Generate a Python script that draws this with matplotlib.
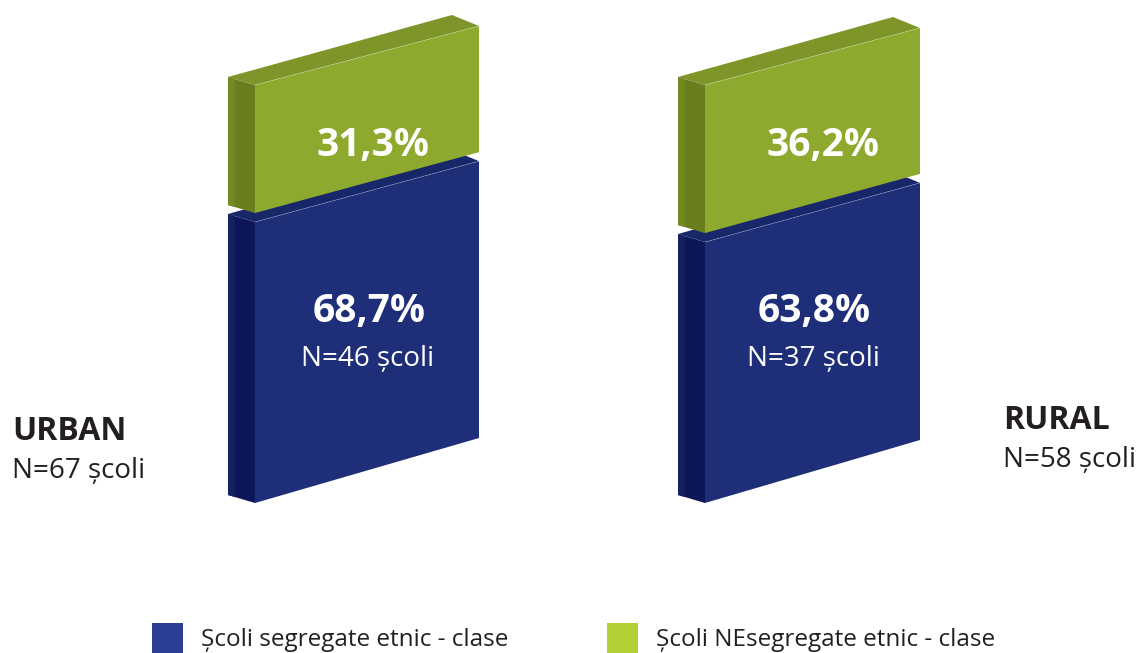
import matplotlib.pyplot as plt
from matplotlib.patches import Polygon, Rectangle

plt.rcParams['font.family'] = ['Open Sans', 'DejaVu Sans']

# data
areas = ["URBAN", "RURAL"]
area_n = [67, 58]
segregated_pct = [68.7, 63.8]
segregated_n = [46, 37]
nonsegregated_pct = [31.3, 36.2]
legend_labels = ["Școli segregate etnic - clase", "Școli NEsegregate etnic - clase"]

# colours
blue_front, blue_side, blue_side_out, blue_top = "#1F2E78", "#0D1758", "#15215F", "#18266A"
green_front, green_side, green_side_out, green_top = "#8DAA2F", "#697E1F", "#738A23", "#7E952A"
blue_legend, green_legend = "#2A3E94", "#B1D034"
dark_text = "#231F20"

# layout (pixels)
bar_left = [255, 705]
bar_width = [224, 215]
base_left = 503
base_right = [438, 440]
scale_left = 4.09    # px per % on the left edge of the front face
scale_right = 4.03   # px per % on the right edge
gap = 9
depth_x, depth_y = -27, -8

fig = plt.figure(figsize=(11.4, 6.53), dpi=100)
ax = fig.add_axes([0, 0, 1, 1])
ax.set_xlim(0, 1140)
ax.set_ylim(653, 0)
ax.axis('off')


def block(x0, w, yl_bot, yr_bot, yl_top, yr_top, front, side, side_out, top):
    # side face (two tones)
    ax.add_patch(Polygon([(x0, yl_top), (x0, yl_bot), (x0 + depth_x, yl_bot + depth_y),
                          (x0 + depth_x, yl_top + depth_y)], closed=True, fc=side, ec='none'))
    ax.add_patch(Polygon([(x0 + depth_x * 0.75, yl_top + depth_y * 0.75), (x0 + depth_x * 0.75, yl_bot + depth_y * 0.75),
                          (x0 + depth_x, yl_bot + depth_y), (x0 + depth_x, yl_top + depth_y)],
                         closed=True, fc=side_out, ec='none'))
    # top face
    ax.add_patch(Polygon([(x0, yl_top), (x0 + w, yr_top), (x0 + w + depth_x, yr_top + depth_y - 3),
                          (x0 + depth_x, yl_top + depth_y)], closed=True, fc=top, ec='none'))
    # front face
    ax.add_patch(Polygon([(x0, yl_bot), (x0 + w, yr_bot), (x0 + w, yr_top), (x0, yl_top)],
                         closed=True, fc=front, ec='none'))
    ax.plot([x0, x0 + w], [yl_top, yr_top], color='white', lw=0.6, alpha=0.25)


for i in range(len(areas)):
    x0, w = bar_left[i], bar_width[i]
    # segregated (blue) block
    bl_top = base_left - segregated_pct[i] * scale_left
    br_top = base_right[i] - segregated_pct[i] * scale_right
    block(x0, w, base_left, base_right[i], bl_top, br_top, blue_front, blue_side, blue_side_out, blue_top)
    # non-segregated (green) block
    gl_bot, gr_bot = bl_top - gap, br_top - gap
    gl_top = gl_bot - nonsegregated_pct[i] * scale_left
    gr_top = gr_bot - nonsegregated_pct[i] * scale_right
    block(x0, w, gl_bot, gr_bot, gl_top, gr_top, green_front, green_side, green_side_out, green_top)

    cx = x0 + w / 2
    ax.text(cx + 2, 322, f"{segregated_pct[i]:.1f}%".replace('.', ','), color='white',
            fontsize=28, fontweight='bold', ha='center', va='baseline')
    ax.text(cx + 1, 366, f"N={segregated_n[i]} școli", color='white',
            fontsize=20, ha='center', va='baseline')
    ax.text(cx + 6 + 4 * i, 156, f"{nonsegregated_pct[i]:.1f}%".replace('.', ','), color='white',
            fontsize=28, fontweight='bold', ha='center', va='baseline')

# area labels
area_x = [12, 1003]
area_y = [440, 429]
for i in range(len(areas)):
    ax.text(area_x[i], area_y[i], areas[i], color=dark_text, fontsize=23, fontweight='bold',
            ha='left', va='baseline')
    ax.text(area_x[i], area_y[i] + 38, f"N={area_n[i]} școli", color=dark_text, fontsize=20,
            ha='left', va='baseline')

# legend
leg_x = [152, 607]
for i, (lab, col) in enumerate(zip(legend_labels, [blue_legend, green_legend])):
    ax.add_patch(Rectangle((leg_x[i], 623), 31, 30, fc=col, ec='none'))
    ax.text(leg_x[i] + 49, 646, lab, color=dark_text, fontsize=17.5, ha='left', va='baseline')

fig.savefig("out.png", dpi=100)
